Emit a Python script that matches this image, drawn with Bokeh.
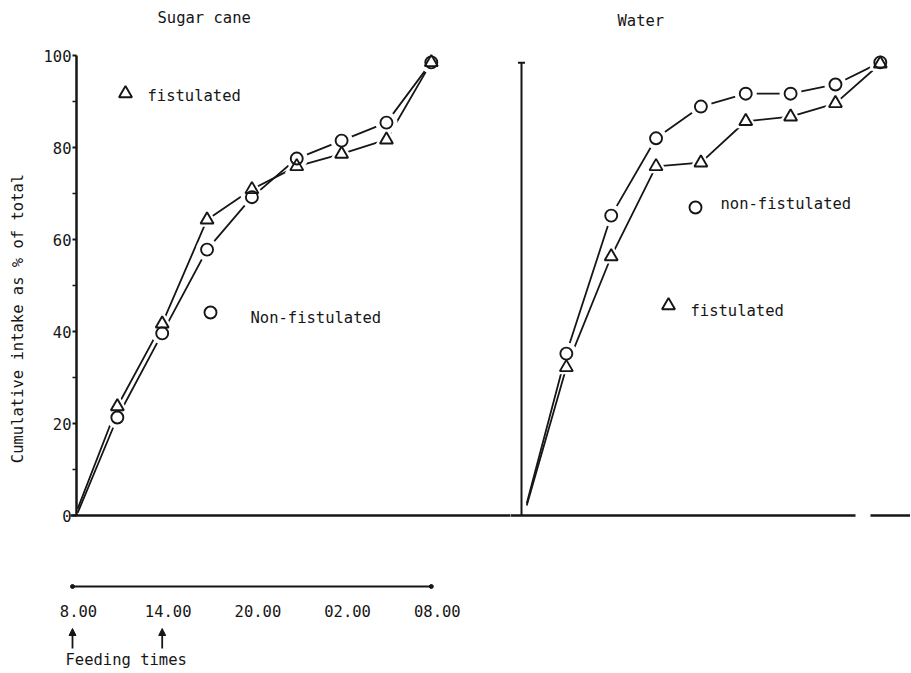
import math
from bokeh.plotting import figure
from bokeh.models import (Range1d, LinearAxis, FixedTicker, ColumnDataSource,
                          Arrow, NormalHead)
from bokeh.layouts import row
from bokeh.embed import file_html
from bokeh.resources import INLINE
from bokeh.core.properties import value

# ---------------- data ----------------
hours = [0.35, 3, 6, 9, 12, 15, 18, 21, 24]          # hours after 8.00
sugar_fistulated = [1.5, 23.7, 41.7, 64.3, 70.9, 75.9, 78.6, 81.7, 98.5]
sugar_nonfistulated = [0.6, 21.3, 39.6, 57.8, 69.2, 77.6, 81.5, 85.4, 98.5]
water_fistulated = [2.2, 32.2, 56.3, 75.9, 76.7, 85.7, 86.7, 89.6, 98.2]
water_nonfistulated = [2.6, 35.2, 65.2, 82.0, 88.9, 91.7, 91.7, 93.7, 98.5]

time_ticks = [0, 6, 12, 18, 24]
time_labels = ["8.00", "14.00", "20.00", "02.00", "08.00"]
feeding_times = [0, 6]
y_ticks = [0, 20, 40, 60, 80, 100]
y_minor_ticks = [10, 30, 50, 70, 90]

# ---------------- style / layout constants ----------------
INK = "#161616"
FONT = "DejaVu Sans Mono"
FS = "15.5px"
PXH = 14.95            # pixels per hour
PXU = 4.6              # pixels per % unit
ZERO_Y = 515           # page y of the 0 % line
H = 670
W1, W2 = 510, 400
T0_1 = 72              # page x of 8.00 in the left panel
T0_2 = 521             # page x of 8.00 in the right panel
Y1 = ZERO_Y / PXU
Y0 = -(H - ZERO_Y) / PXU


def px1(x):
    return (x - T0_1) / PXH


def px2(x):
    return (x - T0_2) / PXH


def py(y):
    return (ZERO_Y - y) / PXU


def base_fig(width, x0, x1):
    p = figure(width=width, height=H, x_range=Range1d(x0, x1), y_range=Range1d(Y0, Y1),
               output_backend="svg", toolbar_location=None,
               x_axis_location=None, y_axis_location=None,
               min_border_left=0, min_border_right=0,
               min_border_top=0, min_border_bottom=0)
    p.outline_line_color = None
    p.background_fill_color = "white"
    p.border_fill_color = "white"
    p.grid.visible = False
    return p


def txt(p, x, y, s, align="left", angle=0.0):
    p.text(x=[x], y=[y], text=[s], text_font=value(FONT), text_font_size=FS,
           text_align=align, text_baseline="middle", text_color=INK, angle=angle)


def series(p, fist, nonfist):
    src = ColumnDataSource(dict(h=hours, f=fist, n=nonfist))
    mk = ColumnDataSource(dict(h=hours[1:], f=fist[1:], n=nonfist[1:]))
    p.line("h", "f", source=src, line_color=INK, line_width=1.8)
    p.line("h", "n", source=src, line_color=INK, line_width=1.8)
    # white masks leave the small gaps around the symbols
    p.scatter("h", "f", source=mk, marker="triangle", size=24, fill_color="white", line_color=None)
    p.scatter("h", "n", source=mk, marker="circle", size=22, fill_color="white", line_color=None)
    p.scatter("h", "f", source=mk, marker="triangle", size=13, fill_color=None,
              line_color=INK, line_width=1.9)
    p.scatter("h", "n", source=mk, marker="circle", size=12, fill_color=None,
              line_color=INK, line_width=1.9)


def legend_mark(p, x, y, marker, size):
    p.scatter(x=[x], y=[y], marker=marker, size=size, fill_color=None,
              line_color=INK, line_width=1.9)


# ---------------- left panel: sugar cane ----------------
p1 = base_fig(W1, px1(0), px1(W1))

ya = LinearAxis(ticker=FixedTicker(ticks=y_ticks, minor_ticks=y_minor_ticks), bounds=(0, 100),
                fixed_location=px1(76),
                major_label_text_font=FONT, major_label_text_font_size=FS,
                major_label_text_color=INK, major_label_standoff=1,
                major_tick_out=4, major_tick_in=0, minor_tick_out=4, minor_tick_in=0,
                axis_line_width=2.5, axis_line_color=INK,
                major_tick_line_width=2, major_tick_line_color=INK,
                minor_tick_line_width=1.6, minor_tick_line_color=INK)
p1.add_layout(ya, "left")
txt(p1, px1(17), py(318), "Cumulative intake as % of total", align="center", angle=math.pi / 2)

# baseline at 0 % (runs on past the panel edge; clipped by the frame)
p1.segment(x0=[px1(70)], y0=[0], x1=[px1(W1 + 20)], y1=[0], line_color=INK, line_width=2.5)
series(p1, sugar_fistulated, sugar_nonfistulated)

txt(p1, px1(157), py(17), "Sugar cane")
legend_mark(p1, px1(125), py(93), "triangle", 13)
txt(p1, px1(147), py(95), "fistulated")
legend_mark(p1, px1(210), py(312), "circle", 12)
txt(p1, px1(250), py(317), "Non-fistulated")

# time axis below the chart
TY = py(586)
p1.segment(x0=[time_ticks[0]], y0=[TY], x1=[time_ticks[-1]], y1=[TY], line_color=INK, line_width=2)
p1.scatter(x=[time_ticks[0], time_ticks[-1]], y=[TY, TY], marker="circle", size=4,
           fill_color=INK, line_color=INK)
p1.text(x=time_ticks, y=[py(610)] * len(time_ticks), text=time_labels, x_offset=6,
        text_font=value(FONT), text_font_size=FS, text_align="center",
        text_baseline="middle", text_color=INK)
for ft in feeding_times:
    p1.add_layout(Arrow(end=NormalHead(size=7, fill_color=INK, line_color=INK),
                        x_start=ft, y_start=py(648), x_end=ft, y_end=py(628),
                        line_color=INK, line_width=1.8))
txt(p1, px1(65), py(659), "Feeding times")

# ---------------- right panel: water ----------------
p2 = base_fig(W2, px2(W1), px2(W1 + W2))
ya2 = LinearAxis(ticker=FixedTicker(ticks=[], minor_ticks=[]), bounds=(0, 98.4),
                 fixed_location=0, axis_line_width=2, axis_line_color=INK)
p2.add_layout(ya2, "left")
p2.scatter(x=[0], y=[98.4], marker="dash", size=7, line_color=INK, line_width=2)

p2.segment(x0=[px2(W1 - 20), px2(870)], y0=[0, 0], x1=[px2(855), px2(W1 + W2 + 20)], y1=[0, 0],
           line_color=INK, line_width=2.5)
series(p2, water_fistulated, water_nonfistulated)

txt(p2, px2(617), py(20), "Water")
legend_mark(p2, px2(695), py(207), "circle", 12)
txt(p2, px2(720), py(203), "non-fistulated")
legend_mark(p2, px2(668), py(305), "triangle", 13)
txt(p2, px2(690), py(310), "fistulated")

layout = row(p1, p2, spacing=0)
open("out.html", "w").write(file_html(layout, INLINE))
